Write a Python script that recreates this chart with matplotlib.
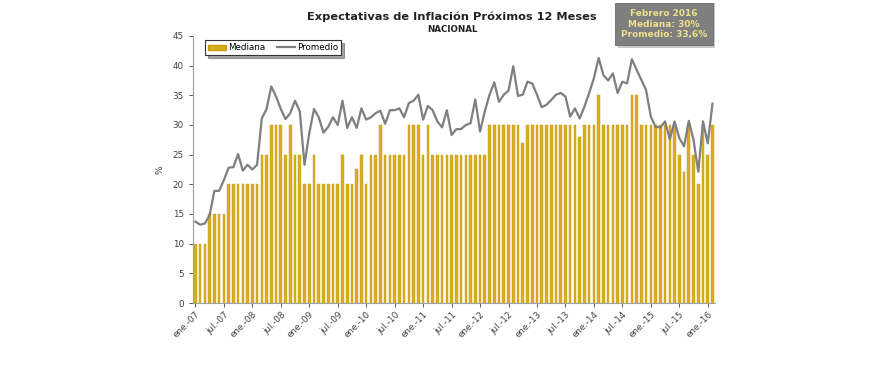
import matplotlib.pyplot as plt
import matplotlib.patches as mpatches
from matplotlib.lines import Line2D

# monthly data, ene-07 .. feb-16
mediana = [10, 10, 10, 15, 15, 15, 15, 20, 20, 20, 20, 20,
           20, 20, 25, 25, 30, 30, 30, 25, 30, 25, 25, 20,
           20, 25, 20, 20, 20, 20, 20, 25, 20, 20, 22.5, 25,
           20, 25, 25, 30, 25, 25, 25, 25, 25, 30, 30, 30,
           25, 30, 25, 25, 25, 25, 25, 25, 25, 25, 25, 25,
           25, 25, 30, 30, 30, 30, 30, 30, 30, 27, 30, 30,
           30, 30, 30, 30, 30, 30, 30, 30, 30, 28, 30, 30,
           30, 35, 30, 30, 30, 30, 30, 30, 35, 35, 30, 30,
           30, 30, 30, 30, 30, 30, 25, 22, 30, 25, 20, 30,
           25, 30]

promedio = [13.7, 13.2, 13.4, 14.8, 18.9, 18.9, 20.7, 22.8, 22.9, 25.1, 22.3, 23.3,
            22.5, 23.3, 31.1, 32.7, 36.5, 34.8, 32.7, 31.0, 32.0, 34.1, 32.3, 23.3,
            28.6, 32.7, 31.3, 28.7, 29.7, 31.3, 30.0, 34.1, 29.5, 31.3, 29.5, 32.8,
            30.9, 31.3, 32.0, 32.4, 30.2, 32.5, 32.5, 32.8, 31.3, 33.7, 34.1, 35.1,
            30.9, 33.2, 32.5, 30.6, 29.6, 32.5, 28.3, 29.3, 29.3, 30.0, 30.3, 34.3,
            28.9, 32.3, 35.1, 37.2, 33.9, 35.1, 35.8, 39.9, 34.9, 35.1, 37.3, 37.0,
            35.1, 33.0, 33.4, 34.2, 35.1, 35.4, 34.8, 31.4, 32.8, 31.1, 33.1, 35.4,
            37.9, 41.3, 38.4, 37.5, 38.7, 35.4, 37.3, 37.0, 41.1, 39.3, 37.6, 35.9,
            31.4, 29.7, 29.6, 30.6, 27.6, 30.6, 27.8, 26.4, 30.7, 27.5, 22.1, 30.6,
            26.9, 33.6]

years = ['07', '08', '09', '10', '11', '12', '13', '14', '15', '16']
tick_labels = []
for y in years:
    tick_labels += ['ene.-' + y, 'jul.-' + y]
tick_labels = tick_labels[:19]

plt.rcParams['font.family'] = 'DejaVu Sans'

bar_color = '#D9AE22'
line_color = '#7F7F7F'

fig = plt.figure(figsize=(8.83, 3.82), dpi=100)
ax = fig.add_axes([0.2186, 0.2068, 0.591, 0.699])

x = list(range(len(mediana)))
ax.bar(x, mediana, width=0.55, color=bar_color, edgecolor='#C99A10', linewidth=0.3, zorder=2)
ax.plot(x, promedio, color=line_color, linewidth=1.6, zorder=3)

ax.set_xlim(-0.5, len(mediana) - 0.5)
ax.set_ylim(0, 45)
ax.set_yticks(range(0, 46, 5))
ax.set_xticks(range(0, len(mediana), 6))
ax.set_xticklabels(tick_labels, rotation=45, ha='right', rotation_mode='anchor')
ax.tick_params(axis='both', labelsize=6.3, colors='#404040', length=3, width=0.6)
ax.tick_params(axis='x', pad=2)

for s in ['top', 'right']:
    ax.spines[s].set_visible(False)
for s in ['left', 'bottom']:
    ax.spines[s].set_color('#A0A0A0')
    ax.spines[s].set_linewidth(0.8)

ax.set_ylabel('%', fontsize=6.5, color='#404040', labelpad=6)

fig.text(0.512, 0.955, 'Expectativas de Inflación Próximos 12 Meses',
         ha='center', va='center', fontsize=8.2, fontweight='bold', color='#222222')
fig.text(0.512, 0.922, 'NACIONAL', ha='center', va='center',
         fontsize=6.3, fontweight='bold', color='#222222')

# info box top-right
fig.patches.append(mpatches.Rectangle((0.700, 0.875), 0.110, 0.117, transform=fig.transFigure,
                                      facecolor='#C8C8C8', edgecolor='none', zorder=0))
fig.patches.append(mpatches.Rectangle((0.697, 0.882), 0.110, 0.110, transform=fig.transFigure,
                                      facecolor='#7F7F7F', edgecolor='#6A6A6A', linewidth=0.6, zorder=1))
fig.text(0.752, 0.937, 'Febrero 2016\nMediana: 30%\nPromedio: 33,6%', ha='center', va='center',
         fontsize=6.5, fontweight='bold', color='#EDE08E', linespacing=1.25, zorder=2)

# legend with shadow
handles = [mpatches.Patch(facecolor=bar_color, edgecolor='#C99A10'),
           Line2D([0], [0], color=line_color, linewidth=1.6)]
leg = ax.legend(handles, ['Mediana', 'Promedio'], loc='upper left', bbox_to_anchor=(0.015, 1.0),
                ncol=2, fontsize=6.3, frameon=True, fancybox=False, shadow=True,
                handlelength=2.0, handleheight=0.6, handletextpad=0.3, columnspacing=1.3,
                borderpad=0.35, edgecolor='#333333')
leg.get_frame().set_linewidth(0.8)

fig.savefig('out.png', dpi=100)
